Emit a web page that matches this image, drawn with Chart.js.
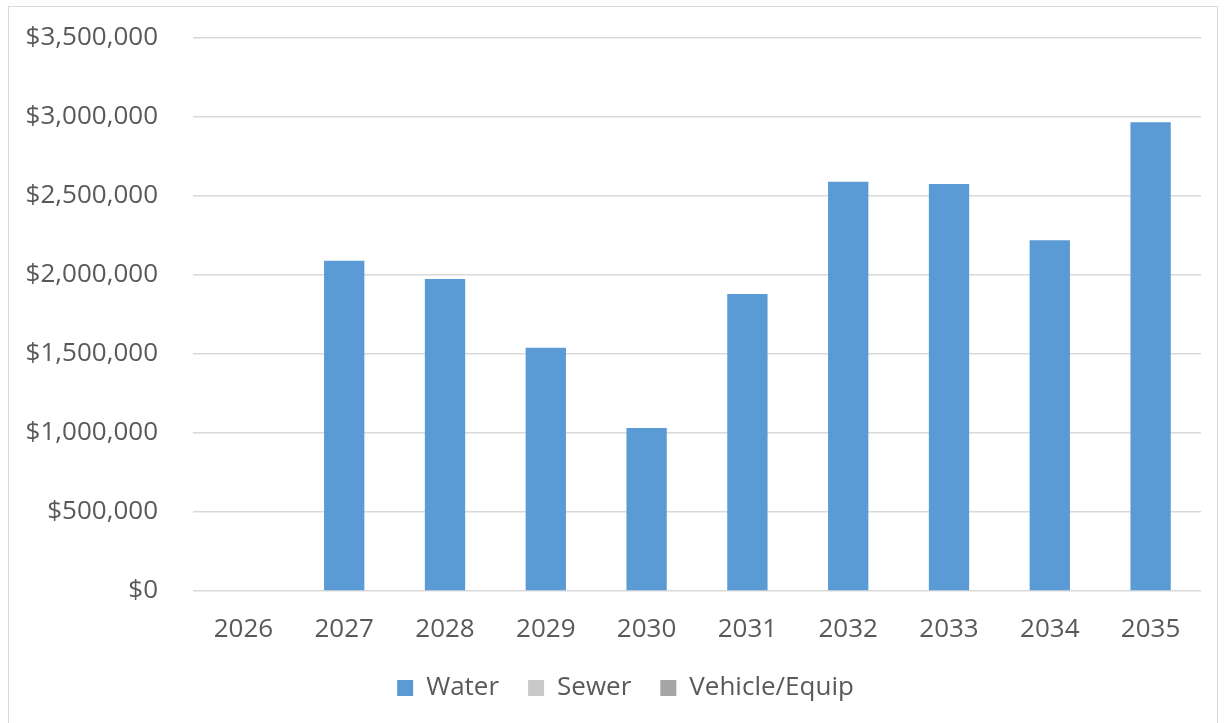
<!DOCTYPE html>
<html>
<head>
<meta charset="utf-8">
<script src="https://cdn.jsdelivr.net/npm/chart.js@4.4.1/dist/chart.umd.min.js"></script>
<style>
  html, body { margin: 0; padding: 0; background: #fff; }
  #frame {
    position: absolute; left: 8px; top: 6px; width: 1210px; height: 730px;
    border: 1px solid #d9d9d9; box-sizing: border-box;
  }
  #wrap { position: absolute; left: 0; top: 0; width: 1225px; height: 723px; }
</style>
</head>
<body>
<div id="frame"></div>
<div id="wrap"><canvas id="myChart" width="1225" height="723"></canvas></div>
<script>
// chart data
const years = ['2026', '2027', '2028', '2029', '2030', '2031', '2032', '2033', '2034', '2035'];
const water = [0, 2090000, 1975000, 1540000, 1031000, 1880000, 2590000, 2576000, 2220000, 2966000];
const sewer = [0, 0, 0, 0, 0, 0, 0, 0, 0, 0];
const vehicleEquip = [0, 0, 0, 0, 0, 0, 0, 0, 0, 0];
const yTicks = [0, 500000, 1000000, 1500000, 2000000, 2500000, 3000000, 3500000];

const textColor = '#595959';
const fontFamily = "'Open Sans', 'Noto Sans', sans-serif";

// nudge the legend a bit right, like the original
const legendShift = {
    id: 'legendShift',
    afterLayout(chart) {
        chart.legend.left += 20;
        chart.legend.right += 20;
    }
};

const ctx = document.getElementById('myChart').getContext('2d');
const chart = new Chart(ctx, {
    type: 'bar',
    data: {
        labels: years,
        datasets: [
            { label: 'Water', data: water, backgroundColor: '#5b9bd5' },
            { label: 'Sewer', data: sewer, backgroundColor: '#c9c9c9' },
            { label: 'Vehicle/Equip', data: vehicleEquip, backgroundColor: '#a5a5a5' }
        ]
    },
    plugins: [legendShift],
    options: {
        responsive: false,
        animation: false,
        layout: { padding: { top: 38, left: 10, right: 24, bottom: 12 } },
        datasets: {
            bar: { categoryPercentage: 1, barPercentage: 0.4 }
        },
        plugins: {
            tooltip: { enabled: false },
            legend: {
                position: 'bottom',
                labels: {
                    color: textColor,
                    font: { family: fontFamily, size: 26 },
                    boxWidth: 16,
                    boxHeight: 16,
                    padding: 29
                }
            }
        },
        scales: {
            x: {
                stacked: true,
                grid: { display: false, drawTicks: false },
                border: { display: false },
                ticks: {
                    color: textColor,
                    font: { family: fontFamily, size: 26 },
                    padding: 23
                },
                afterFit: (scale) => { scale.height = 55; }
            },
            y: {
                stacked: true,
                min: 0,
                max: 3500000,
                afterBuildTicks: (scale) => { scale.ticks = yTicks.map(v => ({ value: v })); },
                grid: { color: '#d9d9d9', lineWidth: 1.5, drawTicks: false },
                border: { display: false },
                ticks: {
                    color: textColor,
                    font: { family: fontFamily, size: 26 },
                    padding: 35,
                    callback: (v) => '$' + Number(v).toLocaleString('en-US')
                },
                afterFit: (scale) => {
                    scale.width = 183;
                    scale.paddingTop = 0;
                    scale.paddingBottom = 0;
                }
            }
        }
    }
});
</script>
</body>
</html>
